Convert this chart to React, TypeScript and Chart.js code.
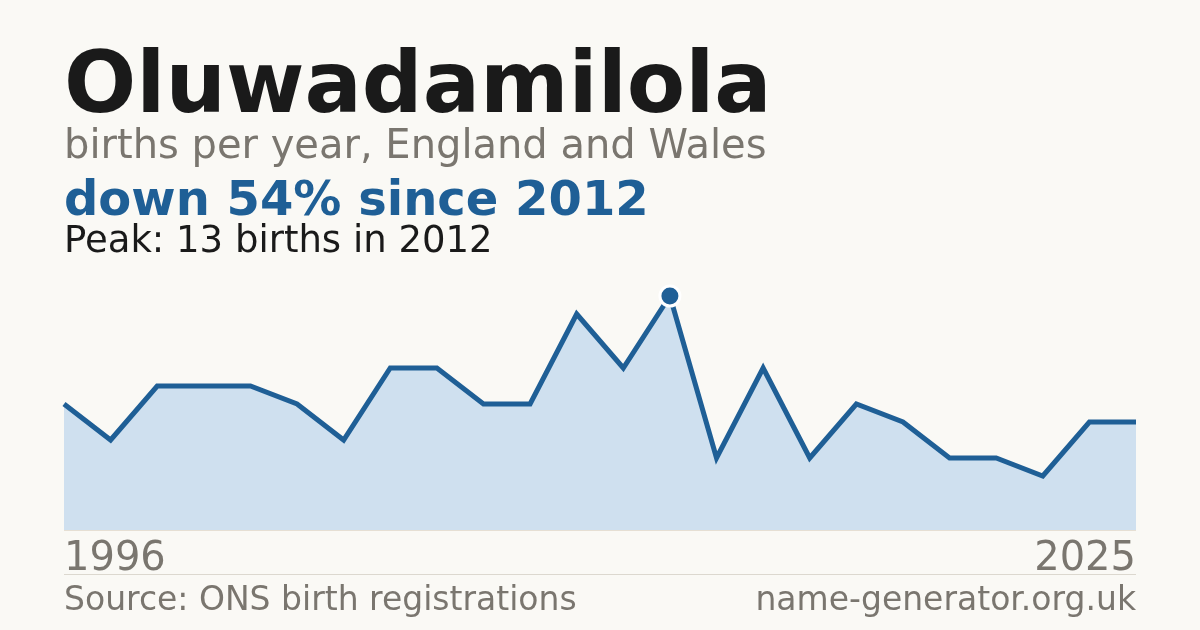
import React, { useEffect, useRef } from "react";
import Chart from "chart.js/auto";

const years: Array<string> = [
  "1996", "1997", "1998", "2000", "2001", "2002", "2003", "2004",
  "2006", "2007", "2008", "2009", "2011", "2012", "2013", "2014",
  "2015", "2017", "2018", "2019", "2021", "2022", "2024", "2025",
];
const births: Array<number> = [
  7, 5, 8, 8, 8, 7, 5, 9, 9, 7, 7, 12, 9, 13, 4, 9, 4, 7, 6, 4, 4, 3, 6, 6,
];
const peakIndex = 13;
const firstLabel = "1996";
const lastLabel = "2025";

const BLUE = "#1f5f96";
const GREY = "#7a766f";
const INK = "#1a1a1a";
const BG = "#faf9f5";
const FONT = "'DejaVu Sans', sans-serif";

const App = () => {
  const chartRef = useRef<HTMLCanvasElement | null>(null);

  useEffect(() => {
    document.body.style.margin = "0";
    document.body.style.background = BG;
    const ctx = chartRef.current!.getContext("2d")!;

    // texts, background and rules around the plot
    const decor = {
      id: "decor",
      beforeDraw(chart: any) {
        const c = chart.ctx;
        c.save();
        c.fillStyle = BG;
        c.fillRect(0, 0, chart.width, chart.height);
        c.restore();
      },
      afterDraw(chart: any) {
        const c = chart.ctx;
        const { left, right, bottom } = chart.chartArea;
        c.save();
        c.textBaseline = "alphabetic";
        c.textAlign = "left";

        c.fillStyle = INK;
        c.font = `bold 85px ${FONT}`;
        c.fillText("Oluwadamilola", left, 112);

        c.fillStyle = GREY;
        c.font = `40px ${FONT}`;
        c.fillText("births per year, England and Wales", left, 158);

        c.fillStyle = BLUE;
        c.font = `bold 48px ${FONT}`;
        c.fillText("down 54% since 2012", left, 215);

        c.fillStyle = INK;
        c.font = `37px ${FONT}`;
        c.fillText("Peak: 13 births in 2012", left, 252);

        // baseline under the area
        c.strokeStyle = "#e6dfd3";
        c.lineWidth = 1;
        c.beginPath();
        c.moveTo(left, bottom + 0.5);
        c.lineTo(right, bottom + 0.5);
        c.stroke();

        c.fillStyle = GREY;
        c.font = `40px ${FONT}`;
        c.fillText(firstLabel, left, 570);
        c.textAlign = "right";
        c.fillText(lastLabel, right, 570);

        c.strokeStyle = "#dcd8cf";
        c.beginPath();
        c.moveTo(left, 574.5);
        c.lineTo(right, 574.5);
        c.stroke();

        c.font = `33px ${FONT}`;
        c.textAlign = "left";
        c.fillText("Source: ONS birth registrations", left, 610);
        c.textAlign = "right";
        c.fillText("name-generator.org.uk", right, 610);
        c.restore();
      },
    };

    const myChart = new Chart(ctx, {
      type: "line",
      data: {
        labels: years,
        datasets: [
          {
            data: births,
            borderColor: BLUE,
            borderWidth: 5,
            backgroundColor: "#cfe0ef",
            fill: "origin",
            tension: 0,
            pointRadius: births.map((_, i) => (i === peakIndex ? 10 : 0)),
            pointBackgroundColor: BLUE,
            pointBorderColor: "#ffffff",
            pointBorderWidth: 3,
            clip: false as any,
          },
        ],
      },
      options: {
        animation: false,
        responsive: false,
        devicePixelRatio: 1,
        layout: { padding: { left: 64, right: 64, top: 278, bottom: 100 } },
        plugins: {
          legend: { display: false },
          tooltip: { enabled: false },
        },
        scales: {
          x: { display: false, offset: false },
          y: { display: false, min: 0, max: 14 },
        },
      },
      plugins: [decor],
    });

    return () => {
      myChart.destroy();
    };
  }, []);

  return (
    <div style={{ position: "fixed", left: 0, top: 0 }}>
      <canvas ref={chartRef} width="1200" height="630"></canvas>
    </div>
  );
};

export default App;
